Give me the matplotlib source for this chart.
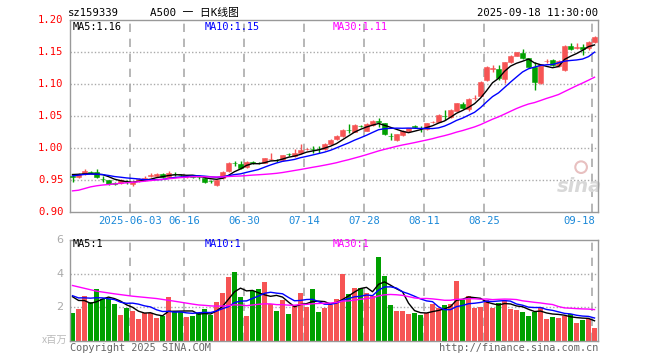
import matplotlib
matplotlib.use('Agg')
import matplotlib.pyplot as plt
import numpy as np

# ---------------- data ----------------
opens = [
    0.957, 0.955, 0.960, 0.9625, 0.963, 0.9525, 0.9505, 0.9455, 0.9452, 0.948,
    0.9442, 0.9484, 0.9505, 0.9575, 0.9567, 0.9594, 0.9556, 0.960, 0.959, 0.955,
    0.956, 0.955, 0.9535, 0.9495, 0.9426, 0.953, 0.9645, 0.977, 0.975, 0.9713,
    0.978, 0.977, 0.9775, 0.983, 0.982, 0.9817, 0.9915, 0.988, 0.992, 0.9985,
    0.9995, 0.9995, 0.9983, 1.0067, 1.0143, 1.0192, 1.029, 1.026, 1.0355, 1.0276,
    1.0364, 1.042, 1.039, 1.0195, 1.013, 1.0208, 1.027, 1.034, 1.0315, 1.030,
    1.0405, 1.0416, 1.051, 1.0484, 1.0588, 1.069, 1.061, 1.0785, 1.082, 1.1067,
    1.1245, 1.1234, 1.108, 1.1354, 1.1447, 1.1494, 1.1406, 1.1276, 1.1015, 1.1365,
    1.138, 1.129, 1.1223, 1.1604, 1.1575, 1.159, 1.156, 1.1666]
closes = [
    0.955, 0.960, 0.965, 0.962, 0.9556, 0.952, 0.9442, 0.945, 0.9505, 0.9478,
    0.9473, 0.9515, 0.954, 0.958, 0.9598, 0.9547, 0.961, 0.9594, 0.9584, 0.9556,
    0.9555, 0.9546, 0.9478, 0.949, 0.951, 0.9634, 0.9775, 0.9765, 0.970, 0.979,
    0.9775, 0.9765, 0.9843, 0.9838, 0.9817, 0.9895, 0.991, 0.993, 0.9973, 0.999,
    0.999, 0.999, 1.0067, 1.013, 1.0195, 1.0286, 1.0286, 1.0364, 1.035, 1.038,
    1.0427, 1.0416, 1.0223, 1.0192, 1.0224, 1.027, 1.0312, 1.0338, 1.0312, 1.039,
    1.041, 1.052, 1.0505, 1.060, 1.0703, 1.0625, 1.0767, 1.079, 1.104, 1.1276,
    1.125, 1.1104, 1.1343, 1.1447, 1.150, 1.1406, 1.1276, 1.104, 1.131, 1.137,
    1.130, 1.1364, 1.160, 1.1557, 1.158, 1.155, 1.1656, 1.1734]
highs = [
    0.959, 0.962, 0.967, 0.964, 0.967, 0.956, 0.951, 0.947, 0.952, 0.950,
    0.949, 0.953, 0.956, 0.961, 0.962, 0.961, 0.965, 0.963, 0.960, 0.958,
    0.958, 0.957, 0.955, 0.951, 0.952, 0.965, 0.979, 0.980, 0.9805, 0.980,
    0.980, 0.979, 0.985, 0.9925, 0.984, 0.990, 0.993, 0.9995, 1.0066, 1.000,
    1.0035, 1.0035, 1.008, 1.014, 1.021, 1.030, 1.0375, 1.038, 1.037, 1.039,
    1.044, 1.048, 1.040, 1.0245, 1.023, 1.028, 1.032, 1.036, 1.035, 1.040,
    1.043, 1.053, 1.060, 1.061, 1.071, 1.0725, 1.078, 1.083, 1.105, 1.129,
    1.130, 1.130, 1.135, 1.146, 1.151, 1.1545, 1.141, 1.135, 1.132, 1.139,
    1.139, 1.138, 1.161, 1.165, 1.164, 1.1625, 1.167, 1.175]
lows = [
    0.948, 0.953, 0.959, 0.961, 0.953, 0.948, 0.943, 0.943, 0.944, 0.945,
    0.941, 0.947, 0.949, 0.955, 0.955, 0.953, 0.954, 0.957, 0.956, 0.953,
    0.953, 0.952, 0.946, 0.946, 0.941, 0.952, 0.963, 0.973, 0.967, 0.970,
    0.975, 0.975, 0.977, 0.981, 0.978, 0.980, 0.988, 0.987, 0.991, 0.997,
    0.9925, 0.993, 0.997, 1.006, 1.013, 1.018, 1.0245, 1.025, 1.033, 1.027,
    1.035, 1.034, 1.021, 1.013, 1.012, 1.020, 1.026, 1.031, 1.026, 1.029,
    1.039, 1.041, 1.044, 1.047, 1.058, 1.061, 1.059, 1.0755, 1.081, 1.105,
    1.120, 1.107, 1.1015, 1.134, 1.144, 1.139, 1.126, 1.091, 1.100, 1.134,
    1.128, 1.127, 1.121, 1.154, 1.155, 1.146, 1.153, 1.165]
volumes = [
    1.67, 1.89, 2.66, 2.29, 3.08, 2.50, 2.46, 2.21, 1.55, 1.97,
    1.77, 1.29, 1.65, 1.65, 1.37, 1.47, 2.60, 1.69, 1.69, 1.41,
    1.47, 1.65, 1.89, 1.53, 2.31, 2.82, 3.82, 4.09, 2.62, 1.49,
    2.96, 3.10, 3.50, 2.17, 1.77, 2.45, 1.61, 2.11, 2.84, 2.03,
    3.08, 1.73, 1.97, 2.10, 2.49, 3.97, 2.80, 3.14, 3.14, 2.84,
    2.66, 5.01, 3.88, 2.15, 1.77, 1.77, 1.61, 1.67, 1.53, 1.67,
    2.19, 1.95, 2.15, 2.21, 3.56, 2.45, 2.66, 1.95, 2.01, 2.45,
    1.95, 2.27, 2.39, 1.89, 1.85, 1.73, 1.49, 1.73, 2.03, 1.29,
    1.41, 1.37, 1.49, 1.57, 1.05, 1.25, 1.29, 0.77]
# history before the visible window (only used for the moving averages)
pre_closes = [0.930, 0.887, 0.884, 0.905, 0.915, 0.920, 0.918, 0.922, 0.925, 0.923,
              0.926, 0.928, 0.927, 0.930, 0.929, 0.931, 0.933, 0.932, 0.934, 0.936,
              0.950, 0.953, 0.957, 0.956, 0.959, 0.958, 0.962, 0.961, 0.959]
pre_volumes = [4.4, 5.2, 4.8, 5.6, 4.1, 4.06, 3.8, 2.95, 3.37, 3.17,
               2.34, 2.7, 2.7, 2.42, 3.07, 4.2, 3.29, 3.39, 3.11, 3.17,
               3.2, 2.6, 2.5, 2.8, 2.6, 3.0, 2.7, 3.1, 2.63]
tick_idx = [10, 19, 29, 39, 49, 59, 69, 87]
tick_labels = ['2025-06-03', '06-16', '06-30', '07-14', '07-28', '08-11', '08-25', '09-18']
price_ticks = [0.90, 0.95, 1.00, 1.05, 1.10, 1.15, 1.20]
vol_ticks = [2, 4, 6]
ma_periods = [5, 10, 30]

# ---------------- styling ----------------
W, H = 660, 360
RED = '#f65454'
GREEN = '#00a000'
MA_COLORS = ['#000000', '#0000ff', '#ff00ff']
GRID = '#aaaaaa'
SPINE = '#999999'
MONO = ['DejaVu Sans Mono', 'Noto Sans CJK SC']

fig = plt.figure(figsize=(W / 100, H / 100), dpi=100)
fig.patch.set_facecolor('white')


def ptext(x, y, s, **kw):
    kw.setdefault('va', 'center')
    kw.setdefault('family', MONO)
    return fig.text(x / W, 1 - y / H, s, **kw)


def moving(full, n, npre):
    arr = np.asarray(full, dtype=float)
    out = []
    for i in range(npre, len(arr)):
        out.append(arr[i - n + 1:i + 1].mean())
    return np.array(out)


n = len(closes)
x = np.arange(n)
xc = x + 0.42
bw = 0.80

L, R = 70, 598
axp = fig.add_axes([L / W, 1 - 212.3 / H, (R - L) / W, 192 / H])
axv = fig.add_axes([L / W, 1 - 340.7 / H, (R - L) / W, 100.7 / H])

for ax in (axp, axv):
    ax.set_xlim(0, n)
    for sp in ax.spines.values():
        sp.set_color(SPINE)
        sp.set_linewidth(1.0)
    ax.tick_params(length=0, labelleft=False, labelbottom=False)
    ax.set_xticks([])
    ax.set_yticks([])
    for ti in tick_idx:
        ax.axvline(ti + 0.05, color=GRID, lw=1.2, ls=(0, (5, 4)), zorder=0)

# price panel
axp.set_ylim(0.90, 1.20)
for pt in price_ticks[1:-1]:
    axp.axhline(pt, color=GRID, lw=1.0, ls=(0, (1, 1.5)), zorder=0)

o = np.array(opens); c = np.array(closes); hi = np.array(highs); lo = np.array(lows)
up = c >= o
cols = np.where(up, RED, GREEN)
axp.vlines(xc, lo, hi, colors=cols, lw=1.0, zorder=2)
bottoms = np.minimum(o, c)
heights = np.maximum(np.abs(c - o), 0.0003)
axp.bar(xc, heights, bw, bottom=bottoms, color=cols, edgecolor=cols, lw=0.4, zorder=3)

full_c = list(pre_closes) + list(closes)
ma_vals = []
for per, col in zip(ma_periods, MA_COLORS):
    m = moving(full_c, per, len(pre_closes))
    ma_vals.append(m)
    axp.plot(xc, m, color=col, lw=1.0, zorder=4)

for pt in price_ticks:
    axp.text(-0.012, pt, f'{pt:.2f}', transform=axp.get_yaxis_transform(),
             ha='right', va='center', color='#ff0000', fontsize=7.6, family=MONO)

for ti, lab in zip(tick_idx, tick_labels):
    if ti == tick_idx[-1]:
        axp.text(ti + 0.55, 0.8935, lab, ha='right', va='top', color='#1a88d8',
                 fontsize=7.6, family=MONO, clip_on=False)
    else:
        axp.text(ti + 0.05, 0.8935, lab, ha='center', va='top', color='#1a88d8',
                 fontsize=7.6, family=MONO, clip_on=False)

ptext(73, 27, f'MA5:{ma_vals[0][-1]:.2f}', color=MA_COLORS[0], fontsize=7.4)
ptext(205, 27, f'MA10:{ma_vals[1][-1]:.2f}', color=MA_COLORS[1], fontsize=7.4)
ptext(333, 27, f'MA30:{ma_vals[2][-1]:.2f}', color=MA_COLORS[2], fontsize=7.4)

# sina watermark
axp.text(0.965, 0.135, 'sina', transform=axp.transAxes, ha='center', va='center',
         color='#d8d8d8', fontsize=14, fontweight='bold', style='italic',
         family='DejaVu Sans', zorder=1)
axp.scatter([0.968], [0.235], transform=axp.transAxes, s=70, facecolor='none',
            edgecolor='#e8c0c0', lw=1.5, zorder=1)

# volume panel
axv.set_ylim(0, 6)
for vt in vol_ticks[:-1]:
    axv.axhline(vt, color=GRID, lw=1.0, ls=(0, (1, 1.5)), zorder=0)
axv.bar(x, volumes, 0.83, align='edge', color=cols, lw=0, zorder=2)
full_v = list(pre_volumes) + list(volumes)
vma_vals = []
for per, col in zip(ma_periods, MA_COLORS):
    m = moving(full_v, per, len(pre_volumes))
    vma_vals.append(m)
    axv.plot(xc, m, color=col, lw=1.0, zorder=4)

for vt in vol_ticks:
    axv.text(-0.012, vt, str(vt), transform=axv.get_yaxis_transform(),
             ha='right', va='center', color='#aaaaaa', fontsize=8, family='DejaVu Sans')

ptext(73, 244, f'MA5:{int(vma_vals[0][-1])}', color=MA_COLORS[0], fontsize=7.4)
ptext(205, 244, f'MA10:{int(vma_vals[1][-1])}', color=MA_COLORS[1], fontsize=7.4)
ptext(333, 244, f'MA30:{int(vma_vals[2][-1])}', color=MA_COLORS[2], fontsize=7.4)

# headers / footers
ptext(68, 13, 'sz159339', color='#000000', fontsize=7.6)
ptext(150, 13, 'A500 一 日K线图', color='#000000', fontsize=7.8)
ptext(598, 13, '2025-09-18 11:30:00', color='#000000', fontsize=7.6, ha='right')
ptext(67, 340, 'x百万', color='#bbbbbb', fontsize=7.4, ha='right',
      family=['Noto Sans CJK SC', 'DejaVu Sans'])
ptext(70, 348, 'Copyright 2025 SINA.COM', color='#666666', fontsize=7.4)
ptext(598, 348, 'http://finance.sina.com.cn', color='#666666', fontsize=7.4, ha='right')

fig.savefig('out.png', dpi=100, facecolor='white')
